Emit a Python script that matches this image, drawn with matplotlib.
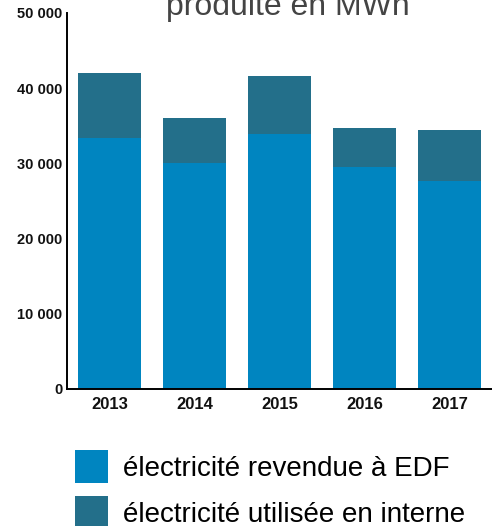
import numpy as np
import matplotlib
matplotlib.use("Agg")
import matplotlib.pyplot as plt
from matplotlib.ticker import FuncFormatter

years = ["2013", "2014", "2015", "2016", "2017"]
sold_edf = [33400, 30100, 33900, 29500, 27700]
total = [42000, 36100, 41600, 34700, 34400]
internal = [t - s for t, s in zip(total, sold_edf)]

legend_labels = ["électricité revendue à EDF", "électricité utilisée en interne"]

COLOR_SOLD = "#0085c0"
COLOR_INTERNAL = "#236f8a"


def fmt_thousands(v, pos):
    return f"{int(v):,}".replace(",", " ")


def main():
    plt.rcParams["font.family"] = ["Liberation Sans", "DejaVu Sans"]

    fig = plt.figure(figsize=(4.92, 5.26), dpi=100)
    ax = fig.add_axes([67 / 492, 137 / 526, 425 / 492, 376 / 526])

    x = np.arange(len(years))
    b1 = ax.bar(x, sold_edf, width=0.74, color=COLOR_SOLD, label=legend_labels[0])
    b2 = ax.bar(x, internal, width=0.74, bottom=sold_edf, color=COLOR_INTERNAL,
                label=legend_labels[1])

    ax.set_xlim(-0.5, 4.5)
    ax.set_ylim(0, 50000)
    ax.set_yticks(np.arange(0, 50001, 10000))
    ax.yaxis.set_major_formatter(FuncFormatter(fmt_thousands))
    ax.set_xticks(x)
    ax.set_xticklabels(years)

    for side in ("top", "right"):
        ax.spines[side].set_visible(False)
    ax.spines["left"].set_linewidth(1.4)
    ax.spines["bottom"].set_linewidth(1.4)
    ax.tick_params(axis="y", length=0, pad=3.5, labelsize=10.5, colors="#111111")
    ax.tick_params(axis="x", length=0, pad=6, labelsize=12, colors="#111111")
    for lbl in ax.get_xticklabels() + ax.get_yticklabels():
        lbl.set_fontweight("bold")

    # titre coupé en haut de l'image
    fig.text(288 / 492, (526 - 15) / 526, "produite en MWh", ha="center",
             va="baseline", fontsize=23, color="#444444")

    fig.legend(handles=[b1, b2], loc="upper left",
               bbox_to_anchor=(75 / 492, 1 - 450 / 526),
               frameon=False, fontsize=20, handlelength=1.19, handleheight=1.45,
               handletextpad=0.55, labelspacing=0.47, borderpad=0,
               borderaxespad=0)

    fig.savefig("out.png", dpi=100)


if __name__ == "__main__":
    main()
